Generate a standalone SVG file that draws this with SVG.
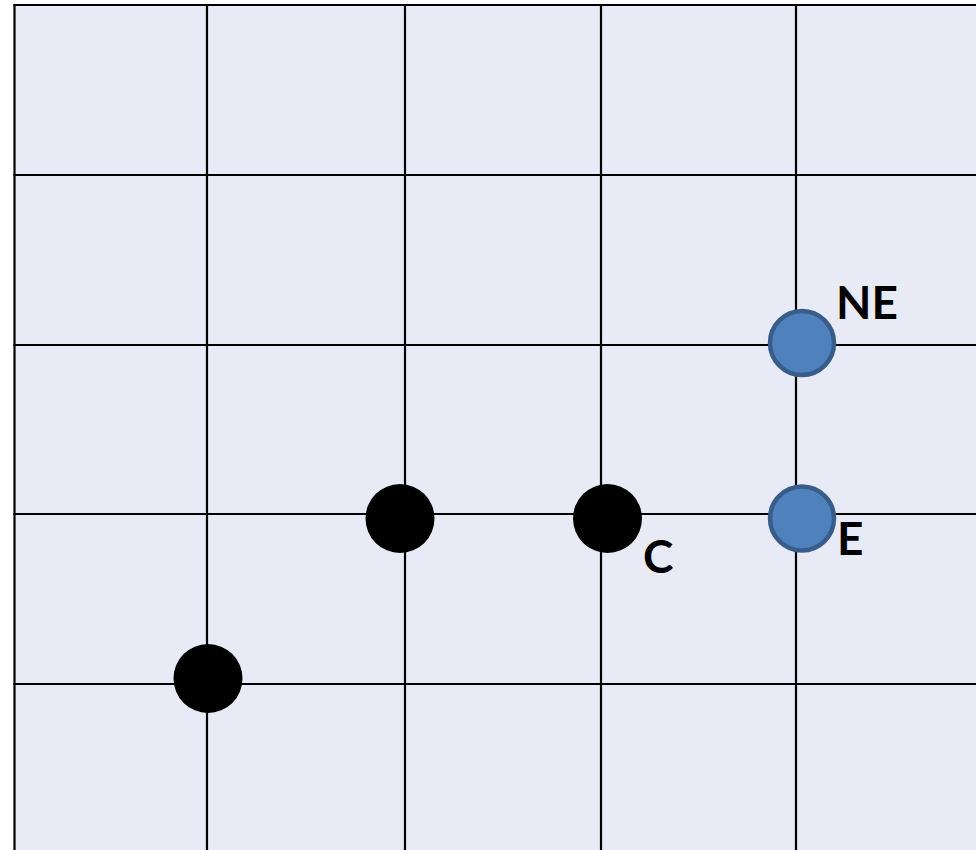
<svg xmlns="http://www.w3.org/2000/svg" width="976" height="850" viewBox="0 0 976 850">
<style>
.grid line{stroke:#000;stroke-width:2.2}
.pt{fill:#000}
.blue{fill:#4F81BD;stroke:#385D8A;stroke-width:4.5}
.lbl{font-family:Lato,"DejaVu Sans",sans-serif;font-weight:bold;font-size:46px;fill:#000}
</style>
<rect x="0" y="0" width="976" height="850" fill="#FFFFFF"/>
<rect x="14.5" y="5" width="962" height="846" fill="#E8EBF5"/>
<g id="connectors" class="grid">
<line x1="14.5" y1="4" x2="14.5" y2="850"/>
<line x1="207" y1="4" x2="207" y2="850"/>
<line x1="405" y1="4" x2="405" y2="850"/>
<line x1="601" y1="4" x2="601" y2="850"/>
<line x1="796" y1="4" x2="796" y2="850"/>
<line x1="13.5" y1="5" x2="976" y2="5"/>
<line x1="13.5" y1="175" x2="976" y2="175"/>
<line x1="13.5" y1="345" x2="976" y2="345"/>
<line x1="13.5" y1="514" x2="976" y2="514"/>
<line x1="13.5" y1="684" x2="976" y2="684"/>
</g>
<g id="p1"><circle class="pt" cx="208" cy="678.5" r="34.5"/></g>
<g id="p2"><circle class="pt" cx="400" cy="518.5" r="34.5"/></g>
<g id="C"><circle class="pt" cx="607.5" cy="518.5" r="34.5"/><text class="lbl" x="643" y="573">C</text></g>
<g id="E"><circle class="blue" cx="802" cy="518.5" r="32"/><text class="lbl" x="837" y="555">E</text></g>
<g id="NE"><circle class="blue" cx="802" cy="343" r="32"/><text class="lbl" x="836" y="319">NE</text></g>
</svg>
